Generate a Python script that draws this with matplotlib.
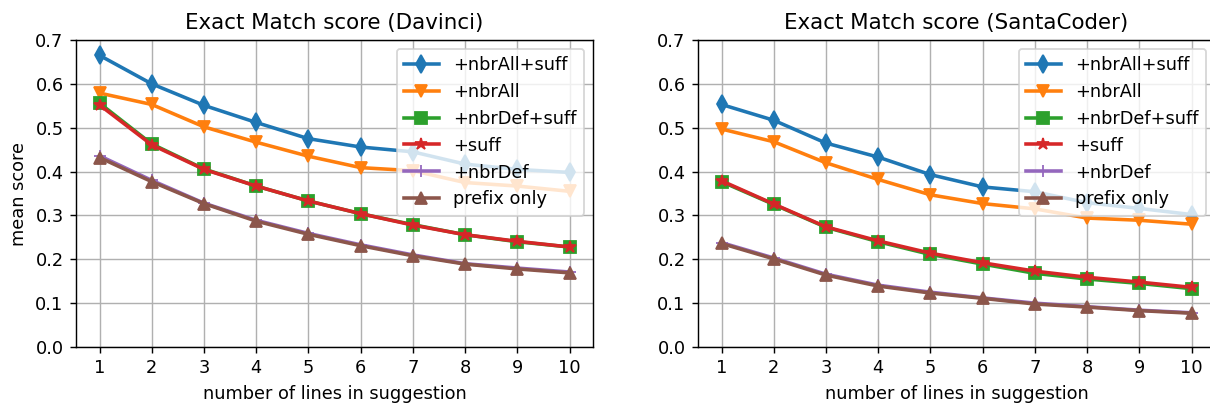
import matplotlib
matplotlib.use("Agg")
import matplotlib.pyplot as plt

# number of lines in suggestion
n_lines = [1, 2, 3, 4, 5, 6, 7, 8, 9, 10]
labels = ["+nbrAll+suff", "+nbrAll", "+nbrDef+suff", "+suff", "+nbrDef", "prefix only"]
markers = ["d", "v", "s", "*", "+", "^"]

# --- Davinci ---
dav_nbrall_suff = [0.665, 0.600, 0.551, 0.512, 0.475, 0.456, 0.445, 0.417, 0.405, 0.398]
dav_nbrall = [0.579, 0.553, 0.502, 0.467, 0.435, 0.409, 0.402, 0.375, 0.367, 0.355]
dav_nbrdef_suff = [0.556, 0.463, 0.406, 0.367, 0.333, 0.304, 0.279, 0.256, 0.240, 0.228]
dav_suff = [0.552, 0.461, 0.405, 0.367, 0.333, 0.304, 0.278, 0.256, 0.241, 0.228]
dav_nbrdef = [0.436, 0.380, 0.328, 0.289, 0.259, 0.233, 0.210, 0.190, 0.180, 0.171]
dav_prefix = [0.432, 0.377, 0.327, 0.287, 0.257, 0.231, 0.208, 0.189, 0.178, 0.169]

# --- SantaCoder ---
sc_nbrall_suff = [0.553, 0.517, 0.465, 0.433, 0.393, 0.365, 0.354, 0.329, 0.316, 0.302]
sc_nbrall = [0.497, 0.468, 0.420, 0.382, 0.347, 0.327, 0.315, 0.294, 0.289, 0.280]
sc_nbrdef_suff = [0.377, 0.325, 0.273, 0.240, 0.211, 0.189, 0.168, 0.155, 0.145, 0.133]
sc_suff = [0.379, 0.326, 0.274, 0.242, 0.214, 0.192, 0.173, 0.159, 0.148, 0.136]
sc_nbrdef = [0.238, 0.203, 0.166, 0.141, 0.125, 0.112, 0.100, 0.092, 0.084, 0.078]
sc_prefix = [0.236, 0.201, 0.164, 0.139, 0.123, 0.111, 0.098, 0.091, 0.083, 0.077]

davinci = [dav_nbrall_suff, dav_nbrall, dav_nbrdef_suff, dav_suff, dav_nbrdef, dav_prefix]
santacoder = [sc_nbrall_suff, sc_nbrall, sc_nbrdef_suff, sc_suff, sc_nbrdef, sc_prefix]

DPI = 128
W, H = 1210, 404
fig = plt.figure(figsize=(W / DPI, H / DPI), dpi=DPI)
ax1 = fig.add_axes([76 / W, 1 - 347 / H, 517 / W, 307 / H])
ax2 = fig.add_axes([698 / W, 1 - 347 / H, 517 / W, 307 / H])

for ax, series, title in [(ax1, davinci, "Exact Match score (Davinci)"),
                          (ax2, santacoder, "Exact Match score (SantaCoder)")]:
    for vals, lab, m in zip(series, labels, markers):
        ax.plot(n_lines, vals, marker=m, markersize=7, linewidth=2, label=lab)
    ax.set_title(title)
    ax.set_xlabel("number of lines in suggestion")
    ax.set_xticks(n_lines)
    ax.set_ylim(0, 0.7)
    ax.set_yticks([0.0, 0.1, 0.2, 0.3, 0.4, 0.5, 0.6, 0.7])
    ax.grid(True)
    ax.legend(loc="upper right")

ax1.set_ylabel("mean score")

plt.savefig("out.png", dpi=DPI)
